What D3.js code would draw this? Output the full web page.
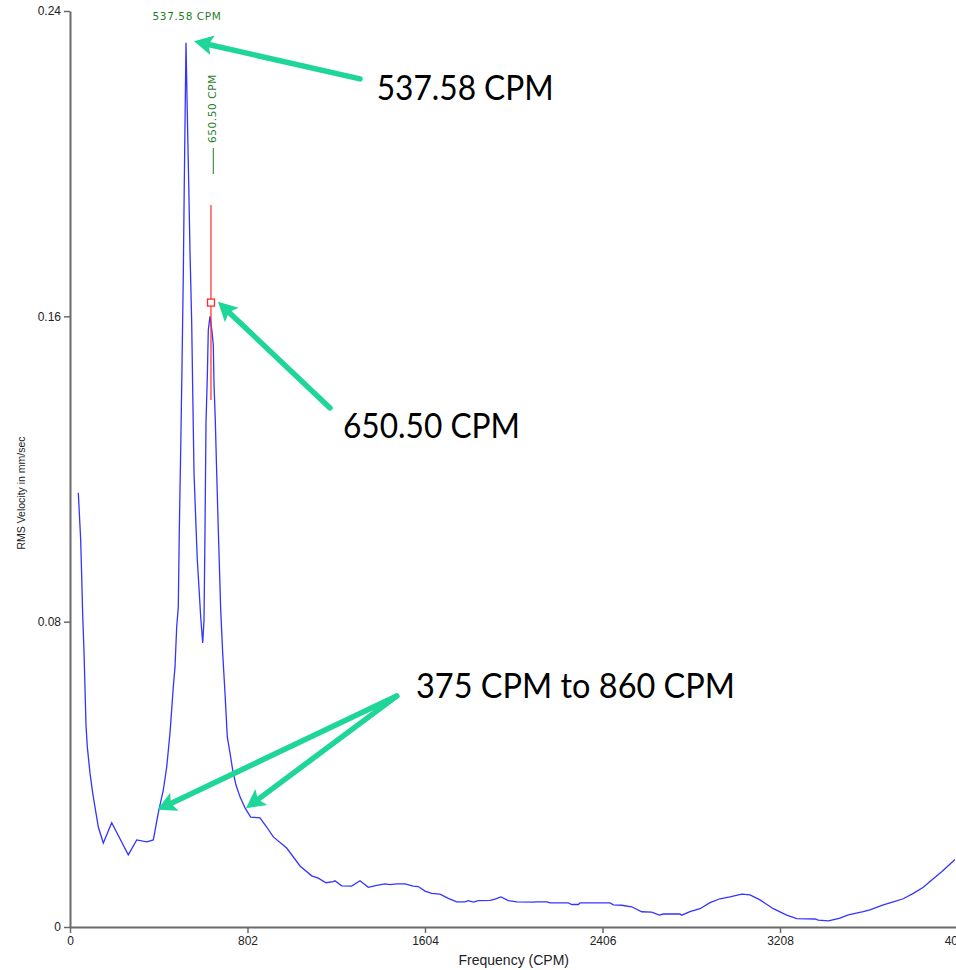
<!DOCTYPE html>
<html><head><meta charset="utf-8">
<script src="https://cdn.jsdelivr.net/npm/d3@7"></script>
<style>body{margin:0;background:#fff;overflow:hidden;} svg{display:block;}</style>
</head><body><svg id="chart" width="956" height="970"></svg>
<script>
// ---- data ----
const freqs = [37.5,48.3,52.9,57.4,63.3,67.8,72.3,78.2,90.4,102.6,113.0,127.9,150.5,188.4,263.4,301.4,346.6,376.4,399.0,421.6,436.9,451.8,466.7,474.4,482.1,489.3,493.9,500.2,506.0,511.9,516.4,524.1,530.0,536.3,542.2,549.9,554.4,560.3,569.3,575.2,584.2,590.5,599.6,605.5,610.0,614.5,620.4,624.9,632.6,641.6,647.5,650.6,656.5,662.8,670.1,680.9,689.9,700.3,710.7,722.9,735.1,750.0,768.1,790.7,816.5,858.5,888.7,918.6,979.1,1039.2,1092.1,1121.9,1156.7,1189.7,1197.3,1227.6,1272.8,1310.3,1347.8,1385.8,1423.3,1445.9,1476.1,1513.6,1551.1,1573.7,1604.0,1634.3,1671.8,1709.3,1747.2,1784.7,1799.6,1822.2,1844.8,1897.7,1920.3,1947.4,1980.4,2018.3,2093.4,2108.7,2153.9,2168.8,2251.5,2266.9,2296.7,2304.3,2439.9,2454.8,2492.8,2538.0,2583.0,2628.2,2662.6,2680.6,2756.2,2763.8,2801.3,2846.5,2891.7,2936.9,2982.1,3035.0,3072.4,3117.6,3177.7,3238.2,3283.4,3366.1,3381.0,3426.2,3441.6,3479.1,3516.6,3584.3,3614.6,3674.7,3719.9,3765.1,3810.3,3855.4,3885.7,3938.6,3998.7];
const rmsVelocity = [0.1138,0.1014,0.0917,0.0817,0.0721,0.0626,0.0529,0.0472,0.0403,0.0351,0.0314,0.0262,0.0220,0.0273,0.0189,0.0228,0.0223,0.0228,0.0299,0.0359,0.0419,0.0508,0.0629,0.0681,0.0786,0.0838,0.1040,0.1250,0.1467,0.1708,0.1949,0.2317,0.2133,0.1949,0.1769,0.1583,0.1407,0.1190,0.1050,0.0962,0.0875,0.0812,0.0744,0.0804,0.1040,0.1321,0.1441,0.1564,0.1600,0.1560,0.1525,0.1425,0.1328,0.1190,0.1040,0.0831,0.0718,0.0613,0.0498,0.0456,0.0411,0.0372,0.0341,0.0312,0.0288,0.0286,0.0262,0.0236,0.0207,0.0160,0.0134,0.0128,0.0116,0.0119,0.0121,0.0108,0.0107,0.0121,0.0104,0.0109,0.0113,0.0111,0.0113,0.0113,0.0107,0.0106,0.0094,0.0088,0.0086,0.0075,0.0066,0.0066,0.0069,0.0065,0.0069,0.0070,0.0073,0.0079,0.0069,0.0066,0.0065,0.0066,0.0066,0.0063,0.0063,0.0059,0.0059,0.0063,0.0063,0.0058,0.0057,0.0053,0.0040,0.0039,0.0031,0.0034,0.0034,0.0031,0.0040,0.0048,0.0064,0.0074,0.0079,0.0086,0.0084,0.0071,0.0048,0.0031,0.0022,0.0021,0.0018,0.0016,0.0018,0.0023,0.0032,0.0040,0.0045,0.0058,0.0066,0.0074,0.0088,0.0104,0.0119,0.0145,0.0177];
const xTickValues = [0, 802, 1604, 2406, 3208, 4010];
const yTickValues = [0, 0.08, 0.16, 0.24];
const xTitle = "Frequency (CPM)";
const yTitle = "RMS Velocity in mm/sec";
const peakFreq = 524.1, peakValue = 0.2317, peakText = "537.58 CPM";
const markerFreq = 637, markerValue = 0.1636, markerTop = 0.1892, markerBottom = 0.1381, markerText = "650.50 CPM";
const calloutTexts = ["537.58 CPM", "650.50 CPM", "375 CPM to 860 CPM"];
const calloutTextPos = [[1385.8, 0.2167], [1233.5, 0.1281], [1563.3, 0.0599]];
const calloutArrows = [
  [[1310.3, 0.2222, 560.3, 0.2321]],
  [[1174.8, 0.1360, 668.7, 0.1638]],
  [[1476.1, 0.0605, 394.4, 0.0307], [1476.1, 0.0605, 795.2, 0.0311]]
];

// ---- layout ----
const svg = d3.select("#chart");
const x = d3.scaleLinear().domain([0, 4010]).range([70, 957.5]);
const y = d3.scaleLinear().domain([0, 0.24]).range([927, 11]);
const axisColor = "#6a6a6a";
const tickFont = "Liberation Sans, Arial, sans-serif";

const xAxis = svg.append("g").attr("transform", `translate(0,${y(0)})`)
  .call(d3.axisBottom(x).tickValues(xTickValues).tickFormat(d3.format("d")).tickSize(6).tickSizeOuter(0).tickPadding(3));
const yAxis = svg.append("g").attr("transform", `translate(${x(0)},0)`)
  .call(d3.axisLeft(y).tickValues(yTickValues).tickFormat(d => d === 0 ? "0" : d3.format(".2f")(d)).tickSize(6).tickSizeOuter(0).tickPadding(3));
[xAxis, yAxis].forEach(g => {
  g.select(".domain").attr("stroke", axisColor).attr("stroke-width", 2);
  g.selectAll(".tick line").attr("stroke", axisColor).attr("stroke-width", 1.5);
  g.selectAll(".tick text").attr("fill", "#222").style("font-family", tickFont).style("font-size", "12px");
});

svg.append("text").attr("x", (x(0) + x(4010)) / 2).attr("y", 965).attr("text-anchor", "middle")
  .style("font-family", tickFont).style("font-size", "14px").attr("fill", "#222").text(xTitle);
svg.append("text").attr("transform", `translate(25,493) rotate(-90)`).attr("text-anchor", "middle")
  .style("font-family", tickFont).style("font-size", "10.5px").attr("fill", "#222").text(yTitle);

const line = d3.line().x((d, i) => x(freqs[i])).y(d => y(d));
svg.append("path").datum(rmsVelocity).attr("d", line)
  .attr("fill", "none").attr("stroke", "#3434ff").attr("stroke-width", 1.3).attr("stroke-linejoin", "miter");

const green = "#1f7d1f";
const smallFont = "DejaVu Sans, Verdana, sans-serif";
svg.append("line").attr("x1", x(markerFreq)).attr("x2", x(markerFreq)).attr("y1", y(markerTop)).attr("y2", y(markerBottom))
  .attr("stroke", "#ff2a2a").attr("stroke-width", 1.2);
svg.append("rect").attr("x", x(markerFreq) - 3.5).attr("y", y(markerValue) - 3.5).attr("width", 7).attr("height", 7)
  .attr("fill", "#fff").attr("stroke", "#ff2a2a").attr("stroke-width", 1.3);
svg.append("line").attr("x1", x(markerFreq) + 2.3).attr("x2", x(markerFreq) + 2.3).attr("y1", 148).attr("y2", 174)
  .attr("stroke", green).attr("stroke-width", 1);
svg.append("text").attr("transform", `translate(${x(markerFreq) + 5.5},143) rotate(-90)`).attr("text-anchor", "start")
  .style("font-family", smallFont).style("font-size", "10.5px").style("letter-spacing", "0.6px").attr("fill", green).text(markerText);
svg.append("text").attr("x", x(peakFreq) + 1).attr("y", 20).attr("text-anchor", "middle")
  .style("font-family", smallFont).style("font-size", "10.5px").style("letter-spacing", "0.6px").attr("fill", green).text(peakText);

const teal = "#1fd699";
const calloutWidths = [177, 177, 319];
calloutTexts.forEach((t, i) => {
  svg.append("text").attr("x", x(calloutTextPos[i][0])).attr("y", y(calloutTextPos[i][1]))
    .style("font-family", "Lato, 'Open Sans', sans-serif").style("font-size", "35px").attr("fill", "#000")
    .attr("textLength", calloutWidths[i]).attr("lengthAdjust", "spacingAndGlyphs").text(t);
  calloutArrows[i].forEach(a => {
    const x0 = x(a[0]), y0 = y(a[1]), x1 = x(a[2]), y1 = y(a[3]);
    const dx = x1 - x0, dy = y1 - y0, L = Math.hypot(dx, dy), ux = dx / L, uy = dy / L;
    const hl = 19, hw = 10, notch = 4;
    const bx = x1 - ux * hl, by = y1 - uy * hl;
    svg.append("line").attr("x1", x0).attr("y1", y0).attr("x2", bx + ux * notch).attr("y2", by + uy * notch)
      .attr("stroke", teal).attr("stroke-width", 5.5).attr("stroke-linecap", "round");
    const pts = [[x1, y1], [bx - uy * hw, by + ux * hw], [bx + ux * notch, by + uy * notch], [bx + uy * hw, by - ux * hw]];
    svg.append("polygon").attr("points", pts.map(p => p.join(",")).join(" ")).attr("fill", teal);
  });
});
</script></body></html>
